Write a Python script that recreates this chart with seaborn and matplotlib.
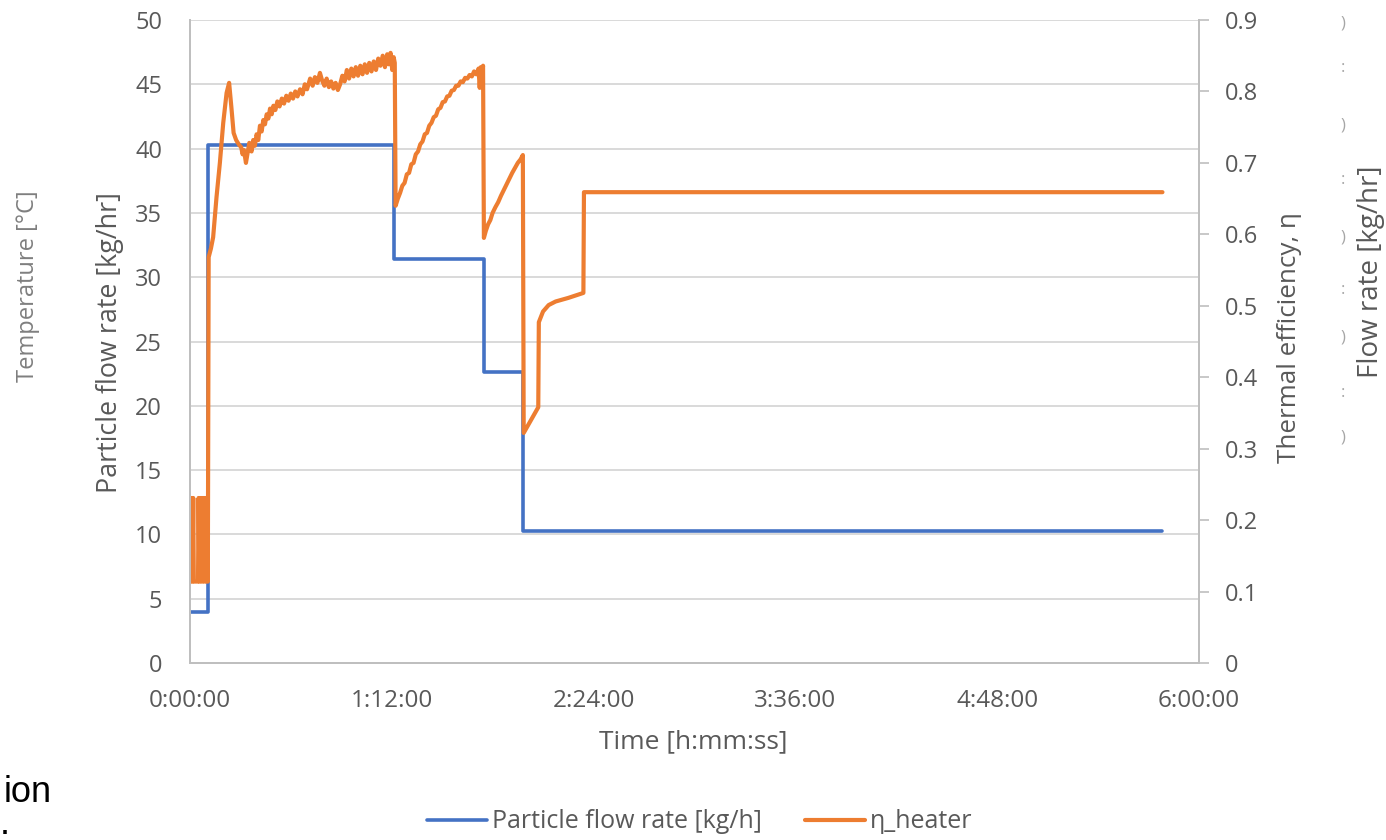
import numpy as np
import pandas as pd
import matplotlib
matplotlib.use("Agg")
import matplotlib.pyplot as plt
import seaborn as sns

# ── Data (time in minutes) ────────────────────────────────────────────────
flow_t = [0.0, 6.4, 72.9, 105.0, 119.0, 347.0]
flow_kg = [4.0, 40.3, 31.4, 22.6, 10.3, 10.3]

eta_t = [0.0, 0.3, 0.6, 0.9, 1.2, 1.4, 2.9, 3.1, 3.4, 3.7, 4.0, 4.3, 4.6, 4.9,
         5.2, 5.5, 5.8, 6.1, 6.4, 6.7, 7.5, 8.3, 9.5, 10.7, 11.9, 13.1, 14.0,
         14.8, 15.6, 16.5, 17.6, 18.3, 18.8, 19.3, 20.0, 20.5, 21.2, 22.0, 22.6,
         23.2, 23.8, 24.4, 25.0, 25.6, 26.2, 26.8, 27.4, 28.0, 28.6, 29.2, 29.8,
         30.5, 31.2, 32.0, 32.8, 33.6, 34.4, 35.2, 36.0, 36.8, 37.6, 38.4, 39.3,
         40.2, 41.0, 41.8, 42.9, 43.8, 44.6, 45.5, 46.4, 47.2, 48.0, 48.8, 49.6,
         50.4, 51.2, 52.0, 52.8, 53.6, 54.4, 55.2, 56.0, 56.8, 57.6, 58.4, 59.2,
         60.0, 60.8, 61.6, 62.4, 63.2, 64.0, 64.8, 65.6, 66.4, 67.2, 68.0, 68.8,
         69.6, 70.4, 71.0, 71.6, 72.2, 72.7, 73.1,
         73.4, 74.2, 75.0, 75.8, 76.6, 77.4, 78.2, 79.0, 79.8, 80.6, 81.4, 82.2,
         83.0, 83.8, 84.6, 85.4, 86.2, 87.0, 87.8, 88.6, 89.4, 90.2, 91.0, 91.8,
         92.6, 93.4, 94.2, 95.0, 95.8, 96.6, 97.4, 98.2, 99.0, 99.8, 100.6,
         101.4, 102.2, 103.0, 103.4, 103.8, 104.3, 104.6,
         104.9, 105.6, 106.4, 107.2, 108.0, 109.0, 110.0, 111.0, 112.0, 113.0,
         114.0, 115.0, 116.0, 117.0, 118.0, 118.8, 119.1, 124.3, 124.5, 126.0,
         128.0, 130.5, 135.0, 140.4, 140.6, 347.0]
eta_val = [0.231, 0.114, 0.231, 0.114, 0.231, 0.114, 0.114, 0.231, 0.114, 0.231,
           0.114, 0.231, 0.114, 0.231, 0.114, 0.231, 0.114, 0.231, 0.114, 0.568,
           0.580, 0.596, 0.652, 0.700, 0.756, 0.798, 0.812,
           0.778, 0.742, 0.732, 0.725, 0.722, 0.712, 0.718, 0.700, 0.712, 0.728,
           0.716, 0.732, 0.724, 0.740, 0.732, 0.752, 0.744, 0.760, 0.754, 0.768,
           0.762, 0.776, 0.768, 0.780, 0.774, 0.786, 0.779, 0.790, 0.783, 0.794,
           0.787, 0.797, 0.790, 0.800, 0.793, 0.803, 0.796, 0.810, 0.803, 0.818,
           0.808, 0.820, 0.812, 0.826, 0.815, 0.808, 0.818, 0.806, 0.814, 0.804,
           0.812, 0.802, 0.810, 0.822, 0.814, 0.830, 0.818, 0.832, 0.821, 0.834,
           0.822, 0.836, 0.824, 0.838, 0.826, 0.840, 0.828, 0.842, 0.830, 0.846,
           0.836, 0.850, 0.834, 0.852, 0.838, 0.854, 0.830, 0.848, 0.840,
           0.640, 0.650, 0.658, 0.668, 0.672, 0.684, 0.686, 0.698, 0.700, 0.712,
           0.716, 0.726, 0.730, 0.740, 0.742, 0.752, 0.756, 0.764, 0.766, 0.775,
           0.777, 0.785, 0.786, 0.793, 0.794, 0.801, 0.802, 0.808, 0.808, 0.814,
           0.813, 0.819, 0.818, 0.823, 0.821, 0.828, 0.824, 0.832, 0.805, 0.834,
           0.826, 0.836,
           0.595, 0.605, 0.614, 0.620, 0.630, 0.638, 0.645, 0.654, 0.662, 0.670,
           0.678, 0.686, 0.693, 0.700, 0.705, 0.711, 0.322, 0.358, 0.477, 0.492,
           0.501, 0.506, 0.511, 0.518, 0.659, 0.659]

x_ticks = [0, 72, 144, 216, 288, 360]
x_labels = ["0:00:00", "1:12:00", "2:24:00", "3:36:00", "4:48:00", "6:00:00"]
left_ticks = list(range(0, 51, 5))
right_ticks = [0, 0.1, 0.2, 0.3, 0.4, 0.5, 0.6, 0.7, 0.8, 0.9]
right_labels = ["0", "0.1", "0.2", "0.3", "0.4", "0.5", "0.6", "0.7", "0.8", "0.9"]

# ── Style ─────────────────────────────────────────────────────────────────
BLUE, ORANGE = "#4472C4", "#ED7D31"
TXT, GRID, SPINE = "#595959", "#d9d9d9", "#bfbfbf"
sns.set_theme(style="white")
plt.rcParams["font.family"] = ["Open Sans", "DejaVu Sans"]

flow = pd.DataFrame({"t": flow_t, "v": flow_kg})
eta = pd.DataFrame({"t": eta_t, "v": eta_val})

fig = plt.figure(figsize=(13.86, 8.4), dpi=100)
ax = fig.add_axes([0.137, 0.2107, 0.728, 0.7655])
ax2 = ax.twinx()

sns.lineplot(data=flow, x="t", y="v", ax=ax, color=BLUE, lw=2.6,
             drawstyle="steps-post", estimator=None, sort=False,
             label="Particle flow rate [kg/h]", legend=False)
sns.lineplot(data=eta, x="t", y="v", ax=ax2, color=ORANGE, lw=3.0,
             estimator=None, sort=False, label="η_heater", legend=False)

ax.set_xlim(0, 360)
ax.set_ylim(0, 50)
ax2.set_ylim(0, 0.9)
ax.set_xticks(x_ticks)
ax.set_xticklabels(x_labels)
ax.set_yticks(left_ticks)
ax2.set_yticks(right_ticks)
ax2.set_yticklabels(right_labels)
ax.set_xlabel("")
ax.set_ylabel("")
ax2.set_ylabel("")

ax.yaxis.grid(True, color=GRID, lw=1.4)
ax.set_axisbelow(True)
for a in (ax, ax2):
    a.spines["top"].set_visible(False)
    for s in ("left", "right", "bottom"):
        a.spines[s].set_color(SPINE)
        a.spines[s].set_linewidth(1.4)

ax.tick_params(axis="x", direction="in", length=9, width=1.2, color=SPINE,
               labelsize=17.5, labelcolor=TXT, pad=19)
ax.tick_params(axis="y", length=0, labelsize=17, labelcolor=TXT, pad=20)
ax2.tick_params(axis="y", direction="out", length=7, width=1.2, color=SPINE,
                labelsize=17, labelcolor=TXT, pad=12)

# axis titles
fig.text(0.5, 0.1167, "Time [h:mm:ss]", ha="center", va="center", fontsize=19, color=TXT)
fig.text(110 / 1386, 1 - 343 / 840, "Particle flow rate [kg/hr]", rotation=90,
         ha="center", va="center", fontsize=19.4, color=TXT)
fig.text(28 / 1386, 1 - 286 / 840, "Temperature [°C]", rotation=90,
         ha="center", va="center", fontsize=17, color="#7f7f7f")
fig.text(1290 / 1386, 1 - 338 / 840, "Thermal efficiency, η", rotation=90,
         ha="center", va="center", fontsize=18.7, color=TXT)
fig.text(1371 / 1386, 1 - 272 / 840, "Flow rate [kg/hr]", rotation=90,
         ha="center", va="center", fontsize=20, color=TXT)

# clipped tick labels of a hidden third axis
for i, yy in enumerate([23, 68, 125, 180, 238, 290, 338, 393, 437]):
    fig.text(1343 / 1386, 1 - yy / 840, ")" if i % 2 == 0 else ":",
             ha="center", va="center", fontsize=12, color="#a6a6a6")

# cut-off caption fragments
fig.text(52 / 1386, 1 - 793 / 840, "ion", ha="right", va="center", fontsize=26,
         color="black", family="Liberation Sans")
fig.text(0, 1 - 824 / 840, ".", ha="left", va="center", fontsize=26,
         color="black", family="Liberation Sans")

h1, l1 = ax.get_legend_handles_labels()
h2, l2 = ax2.get_legend_handles_labels()
fig.legend(h1 + h2, l1 + l2, loc="center", bbox_to_anchor=(0.505, 1 - 822 / 840),
           ncol=2, frameon=False, fontsize=18, labelcolor=TXT, handlelength=2.4,
           handletextpad=0.2, columnspacing=1.7)

fig.savefig("out.png", dpi=100, facecolor="white")
